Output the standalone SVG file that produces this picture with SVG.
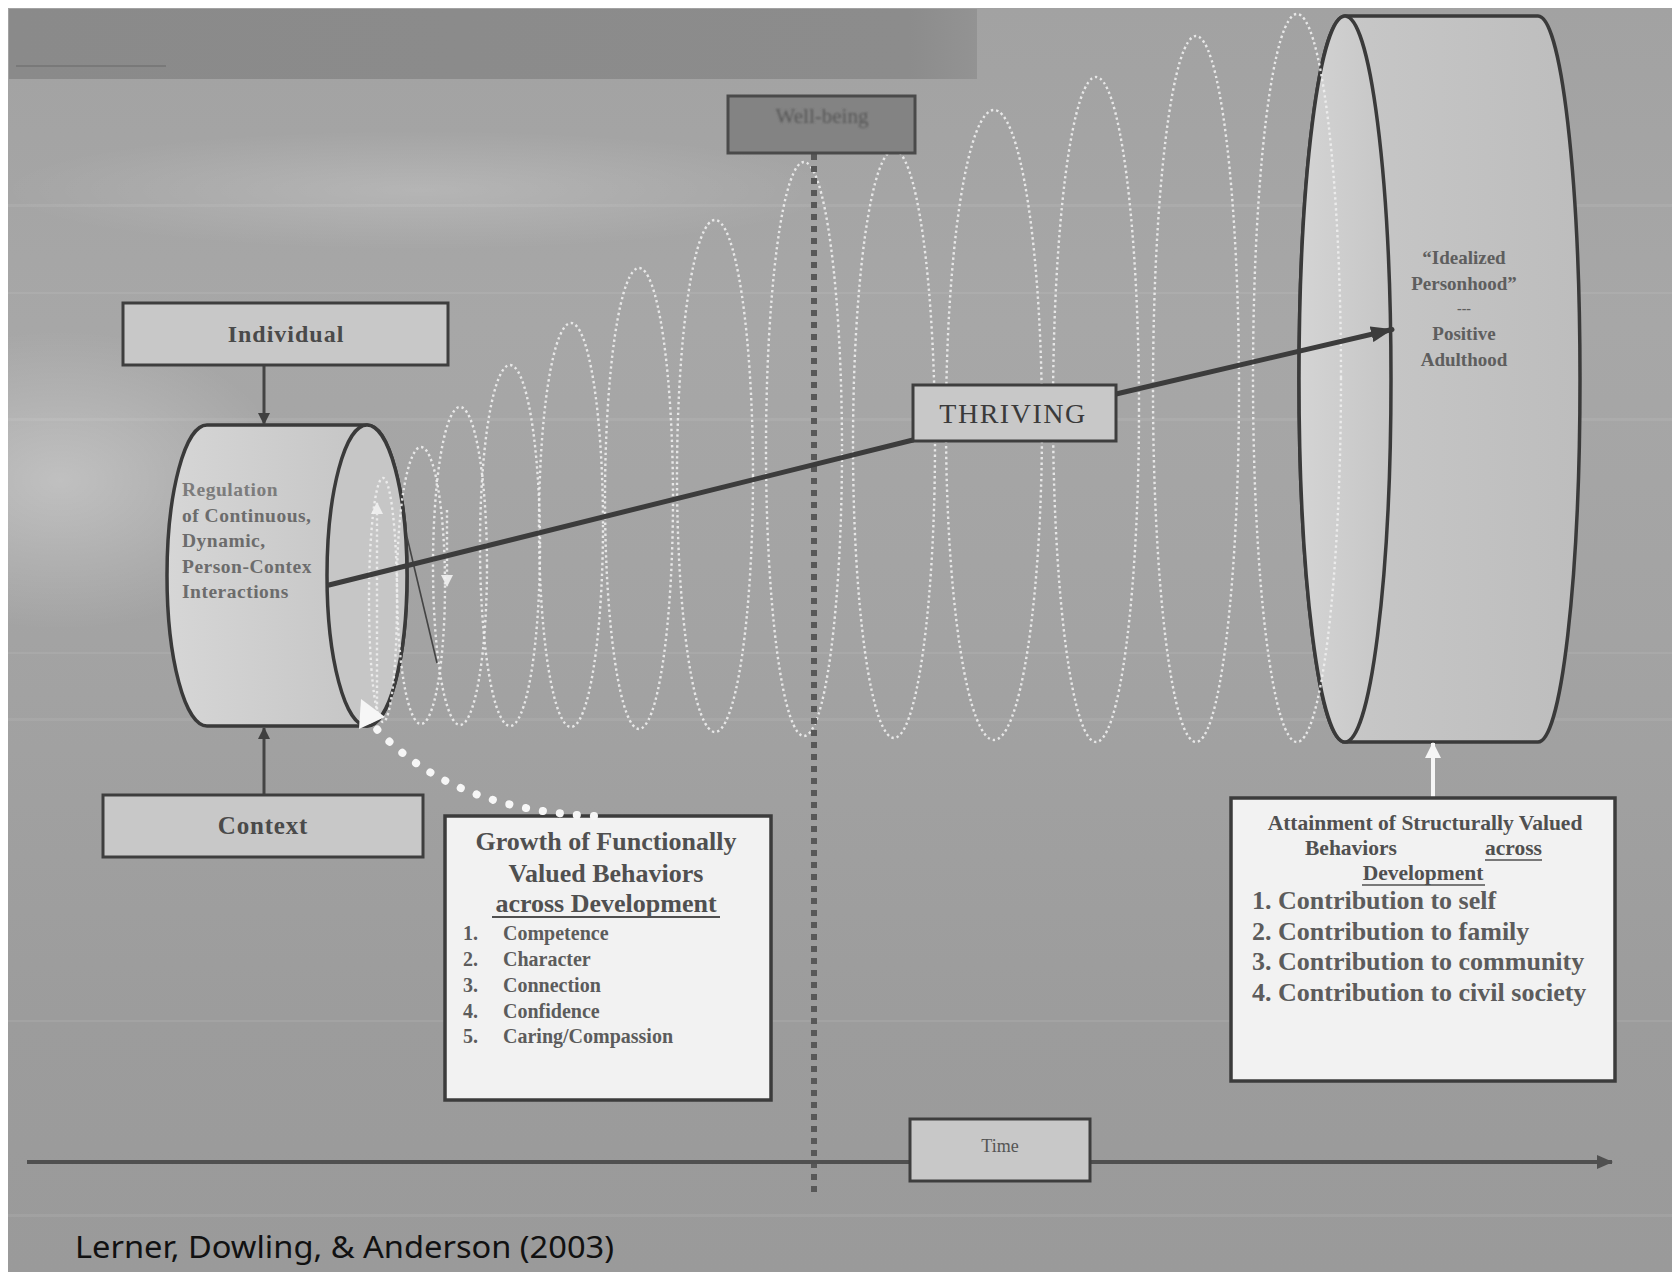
<svg xmlns="http://www.w3.org/2000/svg" width="1679" height="1276" viewBox="0 0 1679 1276">
  <defs>
    <style>
      .serif { font-family: "Liberation Serif", "Times New Roman", serif; }
      .box { fill: #c8c8c8; stroke: #3e3e3e; stroke-width: 3; }
      .card { fill: #f2f2f2; stroke: #3c3c3c; stroke-width: 3.5; }
      .cyl { stroke: #3a3a3a; stroke-width: 3.5; }
      .coil { fill: none; stroke: #eeeeee; stroke-width: 2.4; stroke-dasharray: 2.4 3; opacity: 0.9; }
      .wire { fill: none; stroke: #3c3c3c; stroke-linecap: round; }
      .hdr { font-weight: bold; fill: #505050; }
      .item { font-weight: bold; fill: #5c5c5c; }
      .streak { fill: #ffffff; opacity: 0.07; }
    </style>
    <linearGradient id="bg" x1="0" y1="0" x2="0" y2="1">
      <stop offset="0" stop-color="#a2a2a2"/>
      <stop offset="0.25" stop-color="#a7a7a7"/>
      <stop offset="0.5" stop-color="#a3a3a3"/>
      <stop offset="0.8" stop-color="#9c9c9c"/>
      <stop offset="1" stop-color="#9a9a9a"/>
    </linearGradient>
    <linearGradient id="band" x1="0" y1="0" x2="1" y2="0">
      <stop offset="0" stop-color="#8a8a8a"/>
      <stop offset="0.93" stop-color="#8c8c8c"/>
      <stop offset="1" stop-color="#939393"/>
    </linearGradient>
    <radialGradient id="glow" cx="0.5" cy="0.5" r="0.5">
      <stop offset="0" stop-color="#ffffff" stop-opacity="0.3"/>
      <stop offset="1" stop-color="#ffffff" stop-opacity="0"/>
    </radialGradient>
    <linearGradient id="cylSmall" x1="0" y1="0" x2="1" y2="0">
      <stop offset="0" stop-color="#d6d6d6"/>
      <stop offset="1" stop-color="#c2c2c2"/>
    </linearGradient>
    <linearGradient id="cylBig" x1="0" y1="0" x2="1" y2="0">
      <stop offset="0" stop-color="#c9c9c9"/>
      <stop offset="1" stop-color="#bdbdbd"/>
    </linearGradient>
    <linearGradient id="faceBig" x1="0" y1="0" x2="1" y2="0">
      <stop offset="0" stop-color="#d4d4d4"/>
      <stop offset="1" stop-color="#c6c6c6"/>
    </linearGradient>
    <filter id="soft" x="-10%" y="-30%" width="120%" height="160%">
      <feGaussianBlur stdDeviation="0.8"/>
    </filter>
    <filter id="haze" x="-50%" y="-50%" width="200%" height="200%">
      <feGaussianBlur stdDeviation="30"/>
    </filter>
    <marker id="headDark" viewBox="0 0 22 16" refX="21" refY="8" markerWidth="22" markerHeight="16" markerUnits="userSpaceOnUse" orient="auto">
      <path d="M0 0 L22 8 L0 16 Z" fill="#3c3c3c"/>
    </marker>
    <marker id="headSmall" viewBox="0 0 12 12" refX="11" refY="6" markerWidth="12" markerHeight="12" markerUnits="userSpaceOnUse" orient="auto">
      <path d="M0 0 L12 6 L0 12 Z" fill="#404040"/>
    </marker>
    <marker id="headAxis" viewBox="0 0 16 14" refX="15" refY="7" markerWidth="16" markerHeight="14" markerUnits="userSpaceOnUse" orient="auto">
      <path d="M0 0 L16 7 L0 14 Z" fill="#505050"/>
    </marker>
    <marker id="headWhite" viewBox="0 0 16 16" refX="15" refY="8" markerWidth="16" markerHeight="16" markerUnits="userSpaceOnUse" orient="auto">
      <path d="M0 0 L16 8 L0 16 Z" fill="#f6f6f6"/>
    </marker>
    <marker id="headCoil" viewBox="0 0 12 12" refX="11" refY="6" markerWidth="12" markerHeight="12" markerUnits="userSpaceOnUse" orient="auto">
      <path d="M0 0 L12 6 L0 12 Z" fill="#f2f2f2"/>
    </marker>
  </defs>

  <!-- backdrop -->
  <g id="backdrop">
    <rect x="0" y="0" width="1679" height="1276" fill="#ffffff"/>
    <rect x="8" y="8" width="1664" height="1264" fill="url(#bg)"/>
    <ellipse cx="60" cy="480" rx="230" ry="150" fill="url(#glow)"/>
    <ellipse cx="420" cy="190" rx="420" ry="60" fill="url(#glow)" opacity="0.6"/>
    <rect x="9" y="9" width="968" height="70" fill="url(#band)"/>
    <rect x="16" y="65" width="150" height="2" fill="#6e6e6e" opacity="0.6"/>
    <rect class="streak" x="8" y="204" width="1664" height="3"/>
    <rect class="streak" x="8" y="292" width="1664" height="2"/>
    <rect class="streak" x="8" y="418" width="1664" height="3"/>
    <rect class="streak" x="8" y="652" width="1664" height="2"/>
    <rect class="streak" x="8" y="718" width="1664" height="3"/>
    <rect class="streak" x="8" y="1020" width="1664" height="2"/>
    <rect class="streak" x="8" y="1214" width="1664" height="3"/>
  </g>

  <!-- right-hand cylinder: Idealized Personhood -->
  <g id="adulthood">
    <path class="cyl" fill="url(#cylBig)" d="M1345 16 L1538 16 A42 363 0 0 1 1538 742 L1345 742 A46 363 0 0 1 1345 16 Z"/>
    <ellipse class="cyl" cx="1345" cy="379" rx="46" ry="363" fill="url(#faceBig)"/>
    <g class="serif" font-size="19" font-weight="bold" fill="#5e5e5e" text-anchor="middle">
      <text x="1464" y="264">“Idealized</text>
      <text x="1464" y="290">Personhood”</text>
      <text x="1464" y="313" font-size="14">---</text>
      <text x="1464" y="340">Positive</text>
      <text x="1464" y="366">Adulthood</text>
    </g>
  </g>

  <!-- left-hand cylinder: regulation -->
  <g id="regulation">
    <path class="cyl" fill="url(#cylSmall)" d="M207 425 L367 425 A40 150.5 0 0 1 367 726 L207 726 A40 150.5 0 0 1 207 425 Z"/>
    <g class="serif" font-size="19.5" font-weight="bold" fill="#6c6c6c" letter-spacing="0.5">
      <text x="182" y="496" fill="#7c7c7c">Regulation</text>
      <text x="182" y="521.5">of Continuous,</text>
      <text x="182" y="547">Dynamic,</text>
      <text x="182" y="572.5">Person-Contex</text>
      <text x="182" y="598">Interactions</text>
    </g>
    <ellipse class="cyl" cx="367" cy="575.5" rx="40" ry="150.5" fill="#c6c6c6"/>
  </g>

  <!-- developmental coil -->
  <g id="coil">
    <ellipse class="coil" cx="383" cy="600" rx="14" ry="122"/>
    <ellipse class="coil" cx="421" cy="585.5" rx="24" ry="138.5"/>
    <ellipse class="coil" cx="460" cy="566" rx="27" ry="159"/>
    <ellipse class="coil" cx="510" cy="545.5" rx="30" ry="180.5"/>
    <ellipse class="coil" cx="571" cy="525" rx="32" ry="202"/>
    <ellipse class="coil" cx="639" cy="498.5" rx="34" ry="230.5"/>
    <ellipse class="coil" cx="715" cy="476" rx="38" ry="256"/>
    <ellipse class="coil" cx="804" cy="449" rx="38" ry="287"/>
    <ellipse class="coil" cx="894" cy="444" rx="41" ry="294"/>
    <ellipse class="coil" cx="994" cy="425" rx="48" ry="315"/>
    <ellipse class="coil" cx="1096" cy="409.5" rx="43" ry="332.5"/>
    <ellipse class="coil" cx="1196" cy="389" rx="43" ry="353"/>
    <ellipse class="coil" cx="1297" cy="378" rx="44" ry="364"/>
    <line class="coil" x1="377" y1="715" x2="377" y2="503" marker-end="url(#headCoil)"/>
    <line class="coil" x1="447" y1="510" x2="447" y2="586" marker-end="url(#headCoil)"/>
    <line x1="407" y1="537" x2="437" y2="663" stroke="#444444" stroke-width="1.6"/>
  </g>

  <!-- well-being marker line -->
  <g id="wellbeing-line">
    <line x1="814" y1="154" x2="814" y2="1192" stroke="#585858" stroke-width="6" stroke-dasharray="6 6"/>
  </g>

  <!-- connectors -->
  <g id="connectors">
    <line class="wire" x1="329" y1="585" x2="913" y2="440" stroke-width="5"/>
    <line class="wire" x1="1116" y1="394" x2="1392" y2="329.5" stroke-width="5" marker-end="url(#headDark)"/>
    <line x1="264" y1="366" x2="264" y2="424" stroke="#444444" stroke-width="3" marker-end="url(#headSmall)"/>
    <line x1="264" y1="795" x2="264" y2="728" stroke="#444444" stroke-width="3" marker-end="url(#headSmall)"/>
    <line x1="1433" y1="797" x2="1433" y2="743" stroke="#f6f6f6" stroke-width="4" marker-end="url(#headWhite)"/>
    <line x1="27" y1="1162" x2="1612" y2="1162" stroke="#505050" stroke-width="4" marker-end="url(#headAxis)"/>
  </g>

  <!-- labelled boxes -->
  <g id="individual">
    <rect class="box" x="123" y="303" width="325" height="62"/>
    <text class="serif" x="286" y="342" font-size="24" font-weight="bold" fill="#4a4a4a" text-anchor="middle" letter-spacing="1">Individual</text>
  </g>

  <g id="context">
    <rect class="box" x="103" y="795" width="320" height="62"/>
    <text class="serif" x="263" y="834" font-size="25" font-weight="bold" fill="#4a4a4a" text-anchor="middle" letter-spacing="0.8">Context</text>
  </g>

  <g id="wellbeing">
    <rect x="728" y="96" width="187" height="57" fill="#838383" stroke="#4a4a4a" stroke-width="3"/>
    <text class="serif" x="822" y="123" font-size="21" fill="#565656" text-anchor="middle" filter="url(#soft)">Well-being</text>
  </g>

  <g id="thriving">
    <rect class="box" x="913" y="385" width="203" height="56"/>
    <text class="serif" x="1013" y="423" font-size="28" fill="#3a3a3a" text-anchor="middle" letter-spacing="1.5">THRIVING</text>
  </g>

  <g id="time">
    <rect class="box" x="910" y="1119" width="180" height="62"/>
    <text class="serif" x="1000" y="1152" font-size="18" fill="#555555" text-anchor="middle">Time</text>
  </g>

  <g id="functional-growth">
    <rect class="card" x="445" y="816" width="326" height="284"/>
    <g class="serif hdr" font-size="26" text-anchor="middle">
      <text x="606" y="850">Growth of Functionally</text>
      <text x="606" y="882">Valued Behaviors</text>
      <text x="606" y="912">across Development</text>
    </g>
    <line x1="492" y1="917" x2="720" y2="917" stroke="#505050" stroke-width="2"/>
    <g class="serif item" font-size="20">
      <text x="463" y="940">1.</text><text x="503" y="940">Competence</text>
      <text x="463" y="966">2.</text><text x="503" y="966">Character</text>
      <text x="463" y="992">3.</text><text x="503" y="992">Connection</text>
      <text x="463" y="1018">4.</text><text x="503" y="1018">Confidence</text>
      <text x="463" y="1043">5.</text><text x="503" y="1043">Caring/Compassion</text>
    </g>
    <path d="M594 816 C510 812 432 790 374 726" fill="none" stroke="#f6f6f6" stroke-width="8" stroke-linecap="round" stroke-dasharray="0.1 17"/>
    <polygon points="361,699 359,729 385,717" fill="#f6f6f6"/>
  </g>

  <g id="structural-attainment">
    <rect class="card" x="1231" y="798" width="384" height="283"/>
    <g class="serif hdr" font-size="21.5">
      <text x="1425" y="830" text-anchor="middle">Attainment of Structurally Valued</text>
      <text x="1305" y="855">Behaviors</text>
      <text x="1485" y="855">across</text>
      <text x="1423" y="880" text-anchor="middle">Development</text>
    </g>
    <line x1="1485" y1="860" x2="1542" y2="860" stroke="#505050" stroke-width="1.6"/>
    <line x1="1362" y1="885" x2="1485" y2="885" stroke="#505050" stroke-width="1.6"/>
    <g class="serif item" font-size="26" fill="#555555">
      <text x="1252" y="909">1. Contribution to self</text>
      <text x="1252" y="940">2. Contribution to family</text>
      <text x="1252" y="970">3. Contribution to community</text>
      <text x="1252" y="1001">4. Contribution to civil society</text>
    </g>
  </g>

  <!-- source line -->
  <text x="75" y="1258" font-family="'Noto Sans', 'Liberation Sans', sans-serif" font-size="31" fill="#111111" textLength="539" lengthAdjust="spacingAndGlyphs">Lerner, Dowling, &amp; Anderson (2003)</text>
</svg>
